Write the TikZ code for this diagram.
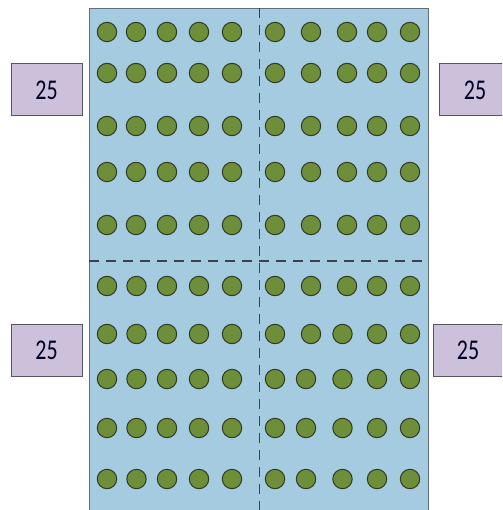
\documentclass[tikz,border=0pt]{standalone}
\usepackage{fontspec}
\setmainfont{Carlito}
\definecolor{plate}{HTML}{A5CBE1}
\definecolor{platebd}{HTML}{5F6E7A}
\definecolor{bead}{HTML}{6E8E3A}
\definecolor{beadbd}{HTML}{2E3A22}
\definecolor{tag}{HTML}{CCC0DA}
\definecolor{tagbd}{HTML}{555560}
\definecolor{divider}{HTML}{3C4048}
\begin{document}
\begin{tikzpicture}[x=1pt,y=-1pt,
  bead/.style={circle,draw=beadbd,line width=1pt,fill=bead,minimum size=19.4pt,inner sep=0pt},
  tagbox/.style={draw=tagbd,line width=1pt,fill=tag,minimum height=52pt,inner sep=0pt,
     font=\fontsize{22}{22}\selectfont,text=black!85!blue},
  divline/.style={draw=divider,line width=1.2pt,dash pattern=on 10pt off 7pt}]
\useasboundingbox (0,0) rectangle (502,510);
\clip (0,0) rectangle (502,510);
% plate
\node[draw=platebd,line width=1pt,fill=plate,minimum width=339pt,minimum height=520pt,inner sep=0pt,anchor=north west] (plate) at (89,8) {};
% dividers
\coordinate (vt) at (259.5,8);
\coordinate (vb) at (259.5,515);
\coordinate (hl) at (89,261);
\coordinate (hr) at (428,261);
\draw[divline] (vt) -- (vb);
\draw[divline] (hl) -- (hr);
% top half
\foreach \y [count=\r] in {32,73,126,172,225}{
  \foreach \x [count=\c] in {107,136,167,199,232}{
    \node[bead] (tl\r\c) at (\x,\y) {};
  }
  \foreach \x [count=\c] in {275,311,347,377,410}{
    \node[bead] (tr\r\c) at (\x,\y) {};
  }
}
% bottom-left
\foreach \y [count=\r] in {286,334,379,428,479}{
  \foreach \x [count=\c] in {107,136.5,167,199,232}{
    \node[bead] (bl\r\c) at (\x,\y) {};
  }
}
% bottom-right
\foreach \x [count=\c] in {275,311,347,377,410}{
  \node[bead] (br1\c) at (\x,286) {};
}
\foreach \x [count=\c] in {275,311,342.5,377,410}{
  \node[bead] (br2\c) at (\x,334) {};
}
\foreach \y [count=\r from 3] in {379,428,479}{
  \foreach \x [count=\c] in {275,306,342.5,377,410}{
    \node[bead] (br\r\c) at (\x,\y) {};
  }
}
% tags
\node[tagbox,minimum width=71pt] (tagL1) at (46.5,90) {\scalebox{1}[1.3]{25}};
\node[tagbox,minimum width=71pt] (tagL2) at (46.5,350.5) {\scalebox{1}[1.3]{25}};
\node[tagbox,minimum width=72pt] (tagR1) at (475,90) {\scalebox{1}[1.3]{25}};
\node[tagbox,minimum width=70pt] (tagR2) at (468,350.5) {\scalebox{1}[1.3]{25}};
\end{tikzpicture}
\end{document}
